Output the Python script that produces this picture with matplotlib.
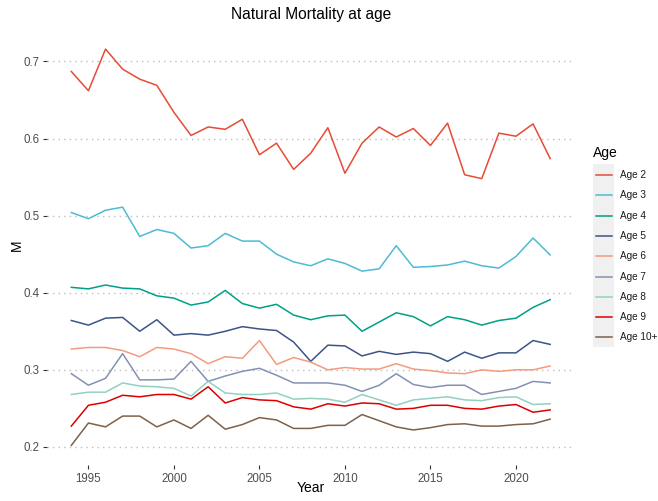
import numpy as np
import matplotlib
matplotlib.use("Agg")
import matplotlib.pyplot as plt
from matplotlib.lines import Line2D
from matplotlib.patches import Rectangle

plt.rcParams["font.family"] = ["Liberation Sans", "DejaVu Sans"]

years = list(range(1994, 2023))

age2 = [0.687, 0.662, 0.716, 0.690, 0.677, 0.669, 0.634, 0.604, 0.615, 0.612,
        0.625, 0.579, 0.594, 0.560, 0.581, 0.614, 0.555, 0.594, 0.615, 0.602,
        0.613, 0.591, 0.620, 0.553, 0.548, 0.607, 0.603, 0.619, 0.574]
age3 = [0.504, 0.496, 0.507, 0.511, 0.473, 0.482, 0.477, 0.458, 0.461, 0.477,
        0.467, 0.467, 0.450, 0.440, 0.435, 0.444, 0.438, 0.428, 0.431, 0.461,
        0.433, 0.434, 0.436, 0.441, 0.435, 0.432, 0.447, 0.471, 0.449]
age4 = [0.407, 0.405, 0.410, 0.406, 0.405, 0.396, 0.393, 0.384, 0.388, 0.403,
        0.386, 0.380, 0.385, 0.371, 0.365, 0.370, 0.371, 0.350, 0.362, 0.374,
        0.369, 0.357, 0.369, 0.365, 0.358, 0.364, 0.367, 0.381, 0.391]
age5 = [0.364, 0.358, 0.367, 0.368, 0.350, 0.365, 0.345, 0.347, 0.345, 0.350,
        0.356, 0.353, 0.351, 0.336, 0.311, 0.332, 0.331, 0.318, 0.324, 0.320,
        0.323, 0.321, 0.311, 0.323, 0.315, 0.322, 0.322, 0.338, 0.333]
age6 = [0.327, 0.329, 0.329, 0.325, 0.317, 0.329, 0.327, 0.321, 0.308, 0.317,
        0.315, 0.338, 0.307, 0.316, 0.310, 0.300, 0.303, 0.301, 0.301, 0.308,
        0.301, 0.299, 0.296, 0.295, 0.300, 0.298, 0.300, 0.300, 0.305]
age7 = [0.295, 0.280, 0.289, 0.321, 0.287, 0.287, 0.288, 0.311, 0.285, 0.292,
        0.298, 0.302, 0.293, 0.283, 0.283, 0.283, 0.280, 0.272, 0.280, 0.295,
        0.281, 0.277, 0.280, 0.280, 0.268, 0.272, 0.276, 0.285, 0.283]
age8 = [0.268, 0.271, 0.271, 0.283, 0.279, 0.278, 0.276, 0.266, 0.285, 0.270,
        0.268, 0.268, 0.270, 0.262, 0.263, 0.262, 0.258, 0.268, 0.261, 0.254,
        0.261, 0.263, 0.265, 0.261, 0.260, 0.264, 0.265, 0.255, 0.256]
age9 = [0.227, 0.254, 0.258, 0.267, 0.265, 0.268, 0.268, 0.262, 0.278, 0.257,
        0.264, 0.261, 0.260, 0.252, 0.249, 0.256, 0.253, 0.257, 0.256, 0.249,
        0.250, 0.254, 0.254, 0.250, 0.249, 0.253, 0.255, 0.245, 0.248]
age10 = [0.202, 0.231, 0.226, 0.240, 0.240, 0.226, 0.235, 0.224, 0.241, 0.223,
         0.229, 0.238, 0.235, 0.224, 0.224, 0.228, 0.228, 0.242, 0.234, 0.226,
         0.222, 0.225, 0.229, 0.230, 0.227, 0.227, 0.229, 0.230, 0.236]

labels = ["Age 2", "Age 3", "Age 4", "Age 5", "Age 6", "Age 7", "Age 8", "Age 9", "Age 10+"]
series = [age2, age3, age4, age5, age6, age7, age8, age9, age10]
colores = ["#E64B35", "#4DBBD5", "#00A087", "#3C5488", "#F39B7F",
           "#8491B4", "#91D1C2", "#DC0000", "#7E6148"]

W, H = 658, 501
fig = plt.figure(figsize=(W / 100, H / 100), dpi=100)
ax = fig.add_axes([0.072, 0.071, 0.8005, 0.871])

for vals, col, lab in zip(series, colores, labels):
    ax.plot(years, vals, color=col, lw=1.1, label=lab)

ax.set_xlim(1992.6, 2023.4)
ax.set_ylim(0.176, 0.742)
ax.set_xticks([1995, 2000, 2005, 2010, 2015, 2020])
ax.set_yticks([0.2, 0.3, 0.4, 0.5, 0.6, 0.7])
ax.set_yticklabels(["0.2", "0.3", "0.4", "0.5", "0.6", "0.7"])
ax.grid(axis="y", color="#BEBEBE", linestyle=(0, (1, 3)), lw=1.0)
ax.grid(axis="x", visible=False)
for s in ax.spines.values():
    s.set_visible(False)
ax.tick_params(colors="#333333", labelcolor="#4D4D4D", labelsize=8.3, length=3, width=0.8, pad=2.5)

# Títulos en coordenadas de figura
fig.text(310.7 / W, 1 - 14 / H, "Natural Mortality at age", fontsize=11.2,
         ha="center", va="center")
fig.text(310.7 / W, 1 - 488 / H, "Year", fontsize=10, ha="center", va="center")
fig.text(17 / W, 1 - 245 / H, "M", fontsize=10, ha="center", va="center", rotation=90)

# Leyenda a mano (fondo gris en las claves)
fig.text(593 / W, 1 - 153 / H, "Age", fontsize=10, va="center", ha="left")
fig.add_artist(Rectangle((593 / W, 1 - 347 / H), 21 / W, 183 / H,
                         transform=fig.transFigure, facecolor="#F0F0F0", edgecolor="none"))
for i, (lab, col) in enumerate(zip(labels, colores)):
    yy = 1 - (175 + i * 20.3) / H
    fig.add_artist(Line2D([596 / W, 612 / W], [yy, yy], transform=fig.transFigure,
                          color=col, lw=1.1))
    fig.text(619.5 / W, yy, lab, fontsize=7.2, va="center", ha="left", color="#1A1A1A")

fig.savefig("out.png", dpi=100)
